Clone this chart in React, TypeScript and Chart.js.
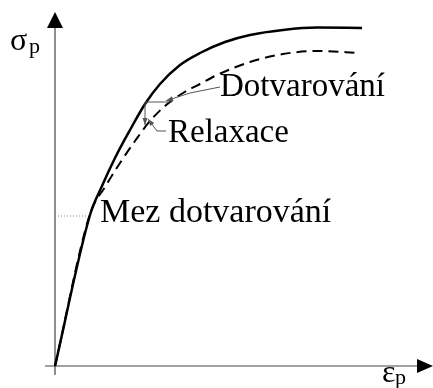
import React, { useEffect, useRef } from "react";
import { Chart, registerables } from "chart.js";

Chart.register(...registerables);

// Solid curve (short-term stress-strain)
const solidStrain = [0, 0.875, 1.175, 1.5, 1.875, 2.25, 2.625, 3.125, 3.625, 4.25, 4.875, 5.7, 6.55, 7.675];
const solidStress = [0, 3.775, 4.5, 5.2, 5.9, 6.55, 7.05, 7.525, 7.825, 8.1, 8.275, 8.4, 8.46, 8.45];

// Dashed curve (long-term)
const dashedStrain = [0, 0.875, 1.25, 1.625, 2.0, 2.375, 2.75, 3.2, 3.625, 4.05, 4.875, 5.7, 6.55, 7.625];
const dashedStress = [0, 3.8, 4.475, 5.075, 5.625, 6.125, 6.5, 6.825, 7.05, 7.275, 7.6, 7.8, 7.875, 7.825];

// Limit (Mez dotvarování) dotted guide
const limitStrain = [0, 0.8];
const limitStress = [3.75, 3.75];

// Axis extents (data units)
const xAxisRange = [-0.25, 9.45];
const yAxisRange = [-0.225, 8.85];

// Labels
const yLabel = ["σ", "p"];
const xLabel = ["ε", "p"];
const labelCreep = "Dotvarování";
const labelRelax = "Relaxace";
const labelLimit = "Mez dotvarování";

const toPts = (xs: number[], ys: number[]) => xs.map((x, i) => ({ x, y: ys[i] }));

const FONT = '"Liberation Serif", "Times New Roman", serif';

const annotPlugin = {
  id: "annot",
  beforeDatasetsDraw(chart: any) {
    const { ctx, scales } = chart;
    const X = (v: number) => scales.x.getPixelForValue(v);
    const Y = (v: number) => scales.y.getPixelForValue(v);
    ctx.save();
    ctx.strokeStyle = "#444";
    ctx.fillStyle = "#000";
    ctx.lineWidth = 1.2;
    // y axis
    const x0 = X(0), y0 = Y(0);
    const yTip = Y(yAxisRange[1]);
    const yBot = Y(yAxisRange[0]);
    ctx.beginPath();
    ctx.moveTo(x0, yBot);
    ctx.lineTo(x0, yTip + 14);
    ctx.stroke();
    ctx.beginPath();
    ctx.moveTo(x0, yTip);
    ctx.lineTo(x0 - 8, yTip + 16);
    ctx.lineTo(x0 + 8, yTip + 16);
    ctx.closePath();
    ctx.fill();
    // x axis
    const xTip = X(xAxisRange[1]);
    const xLeft = X(xAxisRange[0]);
    ctx.beginPath();
    ctx.moveTo(xLeft, y0);
    ctx.lineTo(xTip - 14, y0);
    ctx.stroke();
    ctx.beginPath();
    ctx.moveTo(xTip, y0);
    ctx.lineTo(xTip - 16, y0 - 7);
    ctx.lineTo(xTip - 16, y0 + 7);
    ctx.closePath();
    ctx.fill();
    ctx.restore();
  },
  afterDatasetsDraw(chart: any) {
    const { ctx, scales } = chart;
    const X = (v: number) => scales.x.getPixelForValue(v);
    const Y = (v: number) => scales.y.getPixelForValue(v);
    ctx.save();
    // leader lines
    ctx.strokeStyle = "#555";
    ctx.fillStyle = "#555";
    ctx.lineWidth = 1;
    const poly = (pts: number[][]) => {
      ctx.beginPath();
      pts.forEach((p, i) => (i ? ctx.lineTo(X(p[0]), Y(p[1])) : ctx.moveTo(X(p[0]), Y(p[1]))));
      ctx.stroke();
    };
    const arrow = (from: number[], to: number[]) => {
      const fx = X(from[0]), fy = Y(from[1]), tx = X(to[0]), ty = Y(to[1]);
      const a = Math.atan2(ty - fy, tx - fx);
      const L = 7, W = 2.5;
      ctx.beginPath();
      ctx.moveTo(tx, ty);
      ctx.lineTo(tx - L * Math.cos(a) + W * Math.sin(a), ty - L * Math.sin(a) - W * Math.cos(a));
      ctx.lineTo(tx - L * Math.cos(a) - W * Math.sin(a), ty - L * Math.sin(a) + W * Math.cos(a));
      ctx.closePath();
      ctx.fill();
    };
    // creep horizontal segment
    poly([[2.25, 6.6], [2.925, 6.6]]);
    // relaxation vertical segment
    poly([[2.25, 6.6], [2.25, 6.025]]);
    arrow([2.25, 6.6], [2.25, 6.025]);
    // Dotvarování leader
    poly([[4.125, 6.975], [3.375, 6.825], [2.775, 6.63]]);
    arrow([3.375, 6.825], [2.775, 6.63]);
    // Relaxace leader
    poly([[2.775, 5.875], [2.55, 5.875], [2.325, 6.175]]);
    arrow([2.55, 5.875], [2.325, 6.175]);

    // texts
    ctx.fillStyle = "#000";
    ctx.textBaseline = "alphabetic";
    ctx.textAlign = "left";
    ctx.font = `33px ${FONT}`;
    ctx.fillText(labelCreep, X(4.125), Y(6.75));
    ctx.fillText(labelRelax, X(2.825), Y(5.6));
    ctx.font = `34px ${FONT}`;
    ctx.fillText(labelLimit, X(1.125), Y(3.6));
    // axis labels
    ctx.font = `32px ${FONT}`;
    ctx.fillText(yLabel[0], X(-1.125), Y(7.9));
    ctx.font = `22px ${FONT}`;
    ctx.fillText(yLabel[1], X(-0.65), Y(7.825));
    ctx.font = `32px ${FONT}`;
    ctx.fillText(xLabel[0], X(8.175), Y(-0.4));
    ctx.font = `22px ${FONT}`;
    ctx.fillText(xLabel[1], X(8.5), Y(-0.45));
    ctx.restore();
  },
};

export default function App() {
  const ref = useRef<HTMLCanvasElement>(null);
  useEffect(() => {
    if (!ref.current) return;
    const chart = new Chart(ref.current, {
      type: "line",
      data: {
        datasets: [
          {
            data: toPts(limitStrain, limitStress),
            borderColor: "#888",
            borderWidth: 1,
            borderDash: [1, 2],
            pointRadius: 0,
            fill: false,
          },
          {
            data: toPts(dashedStrain, dashedStress),
            borderColor: "#000",
            borderWidth: 2,
            borderDash: [10, 6],
            pointRadius: 0,
            cubicInterpolationMode: "monotone",
            fill: false,
          },
          {
            data: toPts(solidStrain, solidStress),
            borderColor: "#000",
            borderWidth: 2.5,
            pointRadius: 0,
            cubicInterpolationMode: "monotone",
            fill: false,
          },
        ],
      },
      options: {
        responsive: false,
        animation: false,
        parsing: true,
        layout: { padding: 0 },
        plugins: { legend: { display: false }, tooltip: { enabled: false }, title: { display: false } },
        events: [],
        scales: {
          x: { type: "linear", display: false, min: -1.375, max: 9.45 },
          y: { type: "linear", display: false, min: -0.55, max: 9.15 },
        },
      },
      plugins: [annotPlugin],
    } as any);
    return () => chart.destroy();
  }, []);
  return (
    <div style={{ position: "absolute", left: 0, top: 0, width: 433, height: 388, background: "#fff" }}>
      <canvas ref={ref} width={433} height={388} style={{ display: "block" }} />
    </div>
  );
}
